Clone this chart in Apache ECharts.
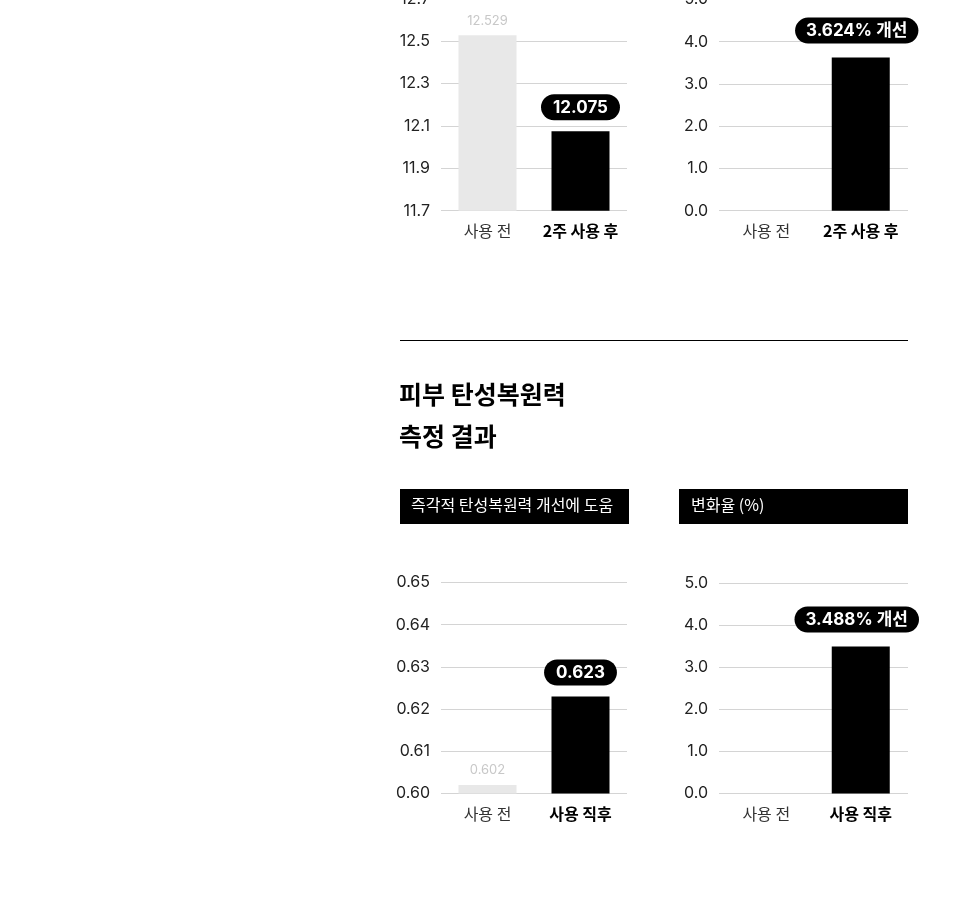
<!DOCTYPE html>
<html>
<head>
<meta charset="utf-8">
<script src="https://cdn.jsdelivr.net/npm/echarts@6/dist/echarts.min.js"></script>
<style>
  html, body { margin: 0; padding: 0; background: #fff; }
  #chart { width: 980px; height: 907px; }
</style>
</head>
<body>
<div id="chart"></div>
<script>
// 카테고리
const catsTop = ['사용 전', '2주 사용 후'];
const catsBottom = ['사용 전', '사용 직후'];

// 값 (위: 측정값 / 변화율, 아래: 탄성복원력 / 변화율)
const topValues = [12.529, 12.075];
const topPct = [0, 3.624];
const bottomValues = [0.602, 0.623];
const bottomPct = [0, 3.488];

// 축 범위 [min, max, interval]
const topAxis = [11.7, 12.7, 0.2];
const bottomAxis = [0.60, 0.65, 0.01];
const pctAxis = [0, 5, 1];

const FONT = "Inter, 'Noto Sans CJK KR', sans-serif";
const KFONT = "'Noto Sans CJK KR', sans-serif";

const grids = [
    {left: 441, width: 186, top: -1, height: 211.7},
    {left: 719, width: 189, top: -0.5, height: 211.2},
    {left: 441, width: 186, top: 582.5, height: 211},
    {left: 719, width: 189, top: 582.8, height: 210.7}
].map(g => Object.assign({outerBoundsMode: 'none', containLabel: false}, g));

function xAxis(idx, cats) {
    return {
        type: 'category', gridIndex: idx, data: cats,
        axisLine: {show: false}, axisTick: {show: false},
        axisLabel: {
            interval: 0, margin: 12,
            formatter: (v, i) => i === 1 ? '{b|' + v + '}' : '{a|' + v + '}',
            rich: {
                a: {fontFamily: KFONT, fontSize: 16, color: '#333'},
                b: {fontFamily: KFONT, fontSize: 16, color: '#000', fontWeight: 'bold'}
            }
        }
    };
}

function yAxis(idx, range, digits) {
    return {
        type: 'value', gridIndex: idx,
        min: range[0], max: range[1], interval: range[2],
        axisLine: {show: false}, axisTick: {show: false},
        axisLabel: {
            margin: 11, fontFamily: FONT, fontSize: 16, color: '#222',
            formatter: v => v.toFixed(digits)
        },
        splitLine: {lineStyle: {color: '#d4d4d4', width: 1}}
    };
}

const pill = {
    show: true, position: 'top', distance: 11,
    backgroundColor: '#000', borderRadius: 14, padding: [5, 12, 4, 12],
    color: '#fff', fontFamily: FONT, fontSize: 17, fontWeight: 'bold'
};
const grayLabel = {
    show: true, position: 'top', distance: 8,
    color: '#c8c8c8', fontFamily: FONT, fontSize: 13
};

function valueSeries(idx, vals) {
    return {
        type: 'bar', xAxisIndex: idx, yAxisIndex: idx, barWidth: 58,
        data: vals.map((v, i) => ({
            value: v,
            itemStyle: {color: i === 0 ? '#e8e8e8' : '#000'},
            label: i === 0 ? grayLabel : pill
        }))
    };
}

function pctSeries(idx, vals) {
    return {
        type: 'bar', xAxisIndex: idx, yAxisIndex: idx, barWidth: 58,
        data: vals.map((v, i) => ({
            value: v,
            itemStyle: {color: '#000'},
            label: i === 0 ? {show: false} : Object.assign({}, pill, {
                distance: 14, padding: [5, 11, 4, 11], offset: [-4, 0],
                formatter: p => p.value + '% 개선'
            })
        }))
    };
}

let myChart = echarts.init(document.getElementById('chart'));

let option = {
    backgroundColor: '#fff',
    animation: false,
    grid: grids,
    xAxis: [xAxis(0, catsTop), xAxis(1, catsTop), xAxis(2, catsBottom), xAxis(3, catsBottom)],
    yAxis: [yAxis(0, topAxis, 1), yAxis(1, pctAxis, 1), yAxis(2, bottomAxis, 2), yAxis(3, pctAxis, 1)],
    series: [
        valueSeries(0, topValues),
        pctSeries(1, topPct),
        valueSeries(2, bottomValues),
        pctSeries(3, bottomPct)
    ],
    graphic: [
        // 구분선
        {type: 'line', shape: {x1: 400, y1: 340.5, x2: 908, y2: 340.5}, style: {stroke: '#000', lineWidth: 1}},
        // 제목
        {type: 'text', left: 399, top: 382, style: {text: '피부 탄성복원력', fontFamily: KFONT, fontSize: 25, fontWeight: 'bold', fill: '#000'}},
        {type: 'text', left: 399, top: 424, style: {text: '측정 결과', fontFamily: KFONT, fontSize: 25, fontWeight: 'bold', fill: '#000'}},
        // 소제목 박스
        {type: 'rect', shape: {x: 400, y: 489, width: 229, height: 35}, style: {fill: '#000'}},
        {type: 'text', left: 411, top: 497, style: {text: '즉각적 탄성복원력 개선에 도움', fontFamily: KFONT, fontSize: 16, fill: '#fff'}},
        {type: 'rect', shape: {x: 679, y: 489, width: 229, height: 35}, style: {fill: '#000'}},
        {type: 'text', left: 691, top: 497, style: {text: '변화율 (%)', fontFamily: KFONT, fontSize: 16, fill: '#fff'}}
    ]
};

option && myChart.setOption(option);
</script>
</body>
</html>
